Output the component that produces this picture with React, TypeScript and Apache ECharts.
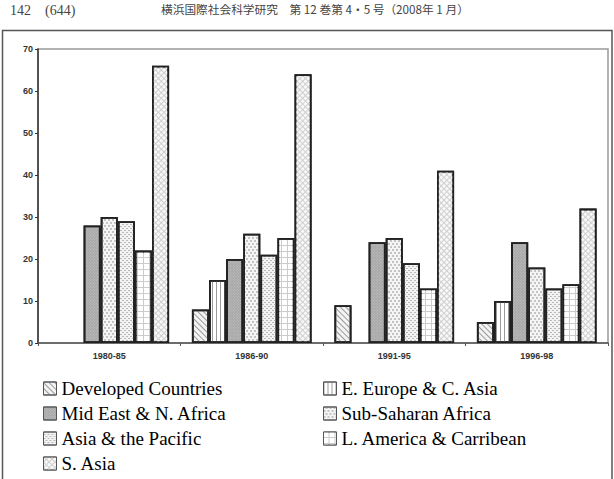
import React, { useEffect, useRef } from "react";
import * as echarts from "echarts";

const categories = ["1980-85", "1986-90", "1991-95", "1996-98"];
const seriesNames = [
  "Developed Countries",
  "E. Europe & C. Asia",
  "Mid East & N. Africa",
  "Sub-Saharan Africa",
  "Asia & the Pacific",
  "L. America & Carribean",
  "S. Asia",
];
const developed = [null, 8, 9, 5];
const eEurope = [null, 15, null, 10];
const midEast = [28, 20, 24, 24];
const subSaharan = [30, 26, 25, 18];
const asiaPacific = [29, 21, 19, 13];
const latinAmerica = [22, 25, 13, 14];
const southAsia = [66, 64, 41, 32];
const seriesValues = [developed, eEurope, midEast, subSaharan, asiaPacific, latinAmerica, southAsia];
const yTicks = [0, 10, 20, 30, 40, 50, 60, 70];

const headerLeft = "142　(644)";
const headerTitle = "横浜国際社会科学研究　第 12 巻第 4・5 号（2008年 1 月）";

const fills = ["#f3f3f3", "#ffffff", "#a8a8a8", "#f5f5f5", "#f3f3f3", "#cccccc", "#cfcfcf"];
const decals: any[] = [
  { symbol: "rect", color: "#9a9a9a", dashArrayX: [1, 0], dashArrayY: [1, 3], rotation: Math.PI / 4 },
  { symbol: "rect", color: "#9a9a9a", dashArrayX: [1, 3], dashArrayY: [1, 0] },
  { symbol: "rect", color: "rgba(255,255,255,0.3)", dashArrayX: [1, 1], dashArrayY: [1, 1], rotation: Math.PI / 4 },
  { symbol: "circle", color: "#a8a8a8", symbolSize: 0.8, dashArrayX: [[2, 2], [0, 2, 2, 0]], dashArrayY: [2, 1] },
  { symbol: "rect", color: "#b8b8b8", dashArrayX: [[2, 2], [0, 2, 2, 0]], dashArrayY: [1, 1] },
  { symbol: "rect", color: "#ffffff", dashArrayX: [5, 1], dashArrayY: [5, 1] },
  { symbol: "rect", color: "#f8f8f8", dashArrayX: [3, 1], dashArrayY: [3, 1], rotation: Math.PI / 4 },
];

const SANS = "Arial";
const SERIF = "Liberation Serif";

export default function App() {
  const ref = useRef<HTMLDivElement>(null);
  useEffect(() => {
    if (!ref.current) return;
    const chart = echarts.init(ref.current, undefined, { renderer: "svg" });
    const legendCommon = {
      orient: "vertical",
      top: 379,
      height: 100,
      itemWidth: 13,
      itemHeight: 13,
      itemGap: 6,
      icon: "rect",
      itemStyle: { borderWidth: 1, borderColor: "#555" },
      padding: 0,
      textStyle: { fontFamily: SERIF, fontSize: 19, lineHeight: 19, color: "#000" },
    };
    chart.setOption({
      animation: false,
      backgroundColor: "#fff",
      graphic: [
        {
          type: "text",
          left: 10,
          top: 3,
          style: { text: headerLeft, font: "14px 'Liberation Serif'", fill: "#444" },
        },
        {
          type: "text",
          left: 161,
          top: 3,
          style: { text: headerTitle, font: "11.7px 'Noto Sans CJK JP'", fill: "#444" },
        },
        {
          type: "rect",
          shape: { x: 2.5, y: 30.5, width: 609.5, height: 470 },
          style: { fill: "none", stroke: "#555", lineWidth: 1.5 },
          silent: true,
          z: -1,
        },
      ],
      grid: {
        left: 38,
        right: 6,
        top: 49,
        bottom: 136,
        show: true,
        borderColor: "#999",
        borderWidth: 1.5,
        backgroundColor: "transparent",
      },
      legend: [
        {
          ...legendCommon,
          left: 43,
          data: [seriesNames[0], seriesNames[2], seriesNames[4], seriesNames[6]],
        },
        {
          ...legendCommon,
          left: 323,
          data: [seriesNames[1], seriesNames[3], seriesNames[5]],
        },
      ],
      xAxis: {
        type: "category",
        data: categories,
        axisLine: { lineStyle: { color: "#555", width: 1.5 } },
        axisTick: { show: true, length: 3, lineStyle: { color: "#555" } },
        axisLabel: {
          fontFamily: SANS,
          fontWeight: "bold",
          fontSize: 9,
          color: "#333",
          margin: 8,
        },
      },
      yAxis: {
        type: "value",
        min: 0,
        max: 70,
        interval: 10,
        axisLine: { show: true, lineStyle: { color: "#333", width: 1.5 } },
        axisTick: { show: true, length: 3, lineStyle: { color: "#333" } },
        splitLine: { show: false },
        axisLabel: {
          fontFamily: SANS,
          fontWeight: "bold",
          fontSize: 9,
          color: "#333",
          margin: 5,
          formatter: (v: number) => (yTicks.includes(v) ? String(v) : ""),
        },
      },
      series: seriesNames.map((name, i) => ({
        name,
        type: "bar",
        data: seriesValues[i],
        barGap: "0%",
        barCategoryGap: "16%",
        itemStyle: {
          color: fills[i],
          borderColor: "#222",
          borderWidth: 1.8,
          decal: decals[i],
        },
      })),
    });
    return () => chart.dispose();
  }, []);
  return (
    <div
      ref={ref}
      style={{ position: "absolute", left: 0, top: 0, width: 614, height: 479 }}
    />
  );
}
